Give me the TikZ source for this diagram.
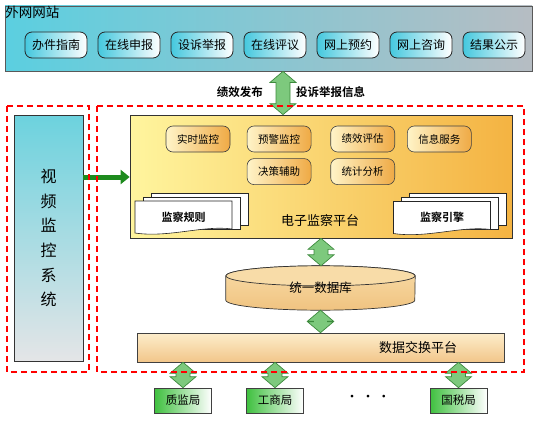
\documentclass[tikz,border=0pt]{standalone}
\usepackage{fontspec}
\setmainfont{Noto Sans CJK SC}[BoldFont={Noto Sans CJK SC Bold}]
\usepackage{tikz}
\usetikzlibrary{positioning, calc, arrows.meta, backgrounds}

\definecolor{webcyan}{HTML}{5BCFE0}
\definecolor{webgray}{HTML}{B6BDC3}
\definecolor{btncyan}{HTML}{45C8DE}
\definecolor{videotop}{HTML}{6CD2DE}
\definecolor{videobottom}{HTML}{E4E5E7}
\definecolor{platyellow}{HTML}{FFF59E}
\definecolor{platorange}{HTML}{F4B342}
\definecolor{funclight}{HTML}{FFF4C8}
\definecolor{funcorange}{HTML}{EFAA45}
\definecolor{exchtop}{HTML}{FDEDCB}
\definecolor{exchbottom}{HTML}{F2C68A}
\definecolor{cyltop}{HTML}{F8DCA8}
\definecolor{cylbottom}{HTML}{F0C380}
\definecolor{arrowgreen}{HTML}{7DC97D}
\definecolor{arrowline}{HTML}{3D8A3D}
\definecolor{feedgreen}{HTML}{1E8B1E}
\definecolor{bureaugreen}{HTML}{3FC03F}

\tikzstyle{website} = [rectangle, minimum width=527pt, minimum height=65pt, draw=black!65, line width=0.8pt, left color=webcyan, right color=webgray]
\tikzstyle{webbtn} = [rectangle, rounded corners=7pt, minimum width=62pt, minimum height=26pt, text centered, draw=black!85, line width=0.8pt, left color=btncyan, right color=white, font=\fontsize{12}{14}\selectfont]
\tikzstyle{video} = [rectangle, minimum width=69pt, minimum height=246pt, align=center, draw=black!80, line width=0.7pt, top color=videotop, bottom color=videobottom, font=\fontsize{16}{24.7}\selectfont]
\tikzstyle{platform} = [rectangle, minimum width=382pt, minimum height=123pt, draw=black!80, line width=0.7pt, left color=platyellow, right color=platorange]
\tikzstyle{func} = [rectangle, rounded corners=7pt, minimum width=64pt, minimum height=26pt, text centered, draw=black!75, line width=0.6pt, left color=funclight, right color=funcorange, font=\fontsize{10.5}{12}\selectfont]
\tikzstyle{sheet} = [fill=white, draw=black!85, line width=0.6pt]
\tikzstyle{doctext} = [font=\bfseries\fontsize{11}{13}\selectfont]
\tikzstyle{database} = [rectangle, minimum width=189pt, minimum height=44pt, font=\fontsize{12.5}{14}\selectfont]
\tikzstyle{exchange} = [rectangle, minimum width=367pt, minimum height=29pt, draw=black!75, line width=0.6pt, top color=exchtop, bottom color=exchbottom]
\tikzstyle{bureau} = [rectangle, minimum width=57pt, minimum height=25pt, draw=black!75, line width=0.6pt, left color=bureaugreen, right color=white, font=\fontsize{11.5}{13}\selectfont]
\tikzstyle{tag} = [inner sep=1pt, font=\bfseries\fontsize{11.5}{13}\selectfont]
\tikzstyle{plain} = [inner sep=1pt, font=\fontsize{13}{15}\selectfont]
\tikzstyle{biarrow} = [fill=arrowgreen, draw=arrowline, line width=0.7pt, line join=miter]
\tikzstyle{feed} = [draw=feedgreen, line width=5pt, -{Triangle[width=14pt,length=9pt]}]
\tikzstyle{dashbox} = [draw=red, line width=1.6pt, dash pattern=on 6pt off 4pt]

% fat two-headed arrow between two points on one vertical
\newcommand{\bothways}[2]{%
  \draw[biarrow] let \p1=(#1), \p2=(#2) in
    (\x1,\y1) -- (\x1+13pt,\y1-11pt) -- (\x1+7pt,\y1-11pt) -- (\x1+7pt,\y2+11pt)
    -- (\x1+13pt,\y2+11pt) -- (\x1,\y2) -- (\x1-13pt,\y2+11pt) -- (\x1-7pt,\y2+11pt)
    -- (\x1-7pt,\y1-11pt) -- (\x1-13pt,\y1-11pt) -- cycle;}

% three stacked sheets round a point
\newcommand{\docstack}[1]{%
  \filldraw[sheet] ($(#1)+(-32.5,-8)$) rectangle ($(#1)+(64.5,24)$);
  \filldraw[sheet] ($(#1)+(-40.5,-12)$) rectangle ($(#1)+(56.5,20)$);
  \filldraw[sheet] ($(#1)+(-48.5,16)$) -- ($(#1)+(48.5,16)$) -- ($(#1)+(48.5,-12)$)
    .. controls ($(#1)+(20,-8)$) and ($(#1)+(-15,-21)$) .. ($(#1)+(-48.5,-16)$) -- cycle;}

\begin{document}
\begin{tikzpicture}[x=1pt, y=1pt]
	\useasboundingbox (0,0) rectangle (535,-420);

	% website on top
	\node (web) [website] at (268.5,-38.5) {};
	\node (webtitle) [anchor=north west, inner sep=0.5pt, font=\fontsize{13.5}{15}\selectfont] at (web.north west) {外网网站};
	\node (guide) [webbtn] at (56,-45) {办件指南};
	\node (apply) [webbtn, right=10.2pt of guide] {在线申报};
	\node (complain) [webbtn, right=10.2pt of apply] {设诉举报};
	\node (review) [webbtn, right=10.2pt of complain] {在线评议};
	\node (booking) [webbtn, right=10.2pt of review] {网上预约};
	\node (consult) [webbtn, right=10.2pt of booking] {网上咨询};
	\node (publish) [webbtn, right=10.2pt of consult] {结果公示};

	% video monitoring
	\node (video) [video] at (48.5,-238) {视\\频\\监\\控\\系\\统};

	% supervision platform
	\node (platform) [platform] at (321,-176.5) {};
	\node (platname) [plain] at (320,-221) {电子监察平台};
	\node (realtime) [func] at (198,-139) {实时监控};
	\node (warning) [func, right=16.5pt of realtime] {预警监控};
	\node (evaluate) [func, right=19pt of warning] {绩效评估};
	\node (service) [func, right=12pt of evaluate] {信息服务};
	\node (decision) [func, below=6pt of warning] {决策辅助};
	\node (statistic) [func, below=6pt of evaluate] {统计分析};

	\coordinate (rulespos) at (183.5,-217);
	\docstack{rulespos}
	\node (rules) [doctext] at (rulespos) {监察规则};
	\coordinate (enginepos) at (442,-217.5);
	\docstack{enginepos}
	\node (engine) [doctext] at (enginepos) {监察引擎};

	% database
	\node (db) [database] at (320.5,-288) {\raisebox{-5pt}{统一数据库}};
	\begin{scope}[on background layer]
		\draw [draw=black!80, line width=0.7pt, top color=cyltop, bottom color=cylbottom]
			($(db.north west)+(0,-10)$) -- ($(db.south west)+(0,10)$)
			arc[start angle=180, end angle=360, x radius=94.5pt, y radius=10pt]
			-- ($(db.north east)+(0,-10)$)
			arc[start angle=0, end angle=180, x radius=94.5pt, y radius=10pt] -- cycle;
		\draw [draw=black!80, line width=0.7pt, fill=cyltop] ($(db.north)+(0,-10)$) ellipse [x radius=94.5pt, y radius=10pt];
	\end{scope}

	% exchange platform
	\node (exch) [exchange] at (320.5,-347.5) {};
	\node (exchname) [plain, left=46pt of exch.east] {数据交换平台};

	% outside bureaus
	\node (quality) [bureau] at (183,-400.5) {质监局};
	\node (commerce) [bureau] at (275,-400.5) {工商局};
	\node (more) [plain] at (368,-398) {· · ·};
	\node (tax) [bureau] at (458.5,-400.5) {国税局};

	% connectors
	\coordinate (pubx) at (283,-92);
	\bothways{web.south -| pubx}{platform.north -| pubx}
	\node (perf) [tag, left=19pt of pubx] {绩效发布};
	\node (report) [tag, right=12pt of pubx] {投诉举报信息};
	\bothways{platform.south}{db.north}
	\bothways{db.south}{exch.north}
	\bothways{exch.south -| quality}{quality.north}
	\bothways{exch.south -| commerce}{commerce.north}
	\bothways{exch.south -| tax}{tax.north}

	\coordinate (feedy) at (0,-177);
	\draw [feed] (video.east |- feedy) -- (platform.west |- feedy);

	% dashed groups
	\draw [dashbox] (7,-106) rectangle (89,-372);
	\draw [dashbox] (97,-106) rectangle (524,-372);
\end{tikzpicture}
\end{document}
